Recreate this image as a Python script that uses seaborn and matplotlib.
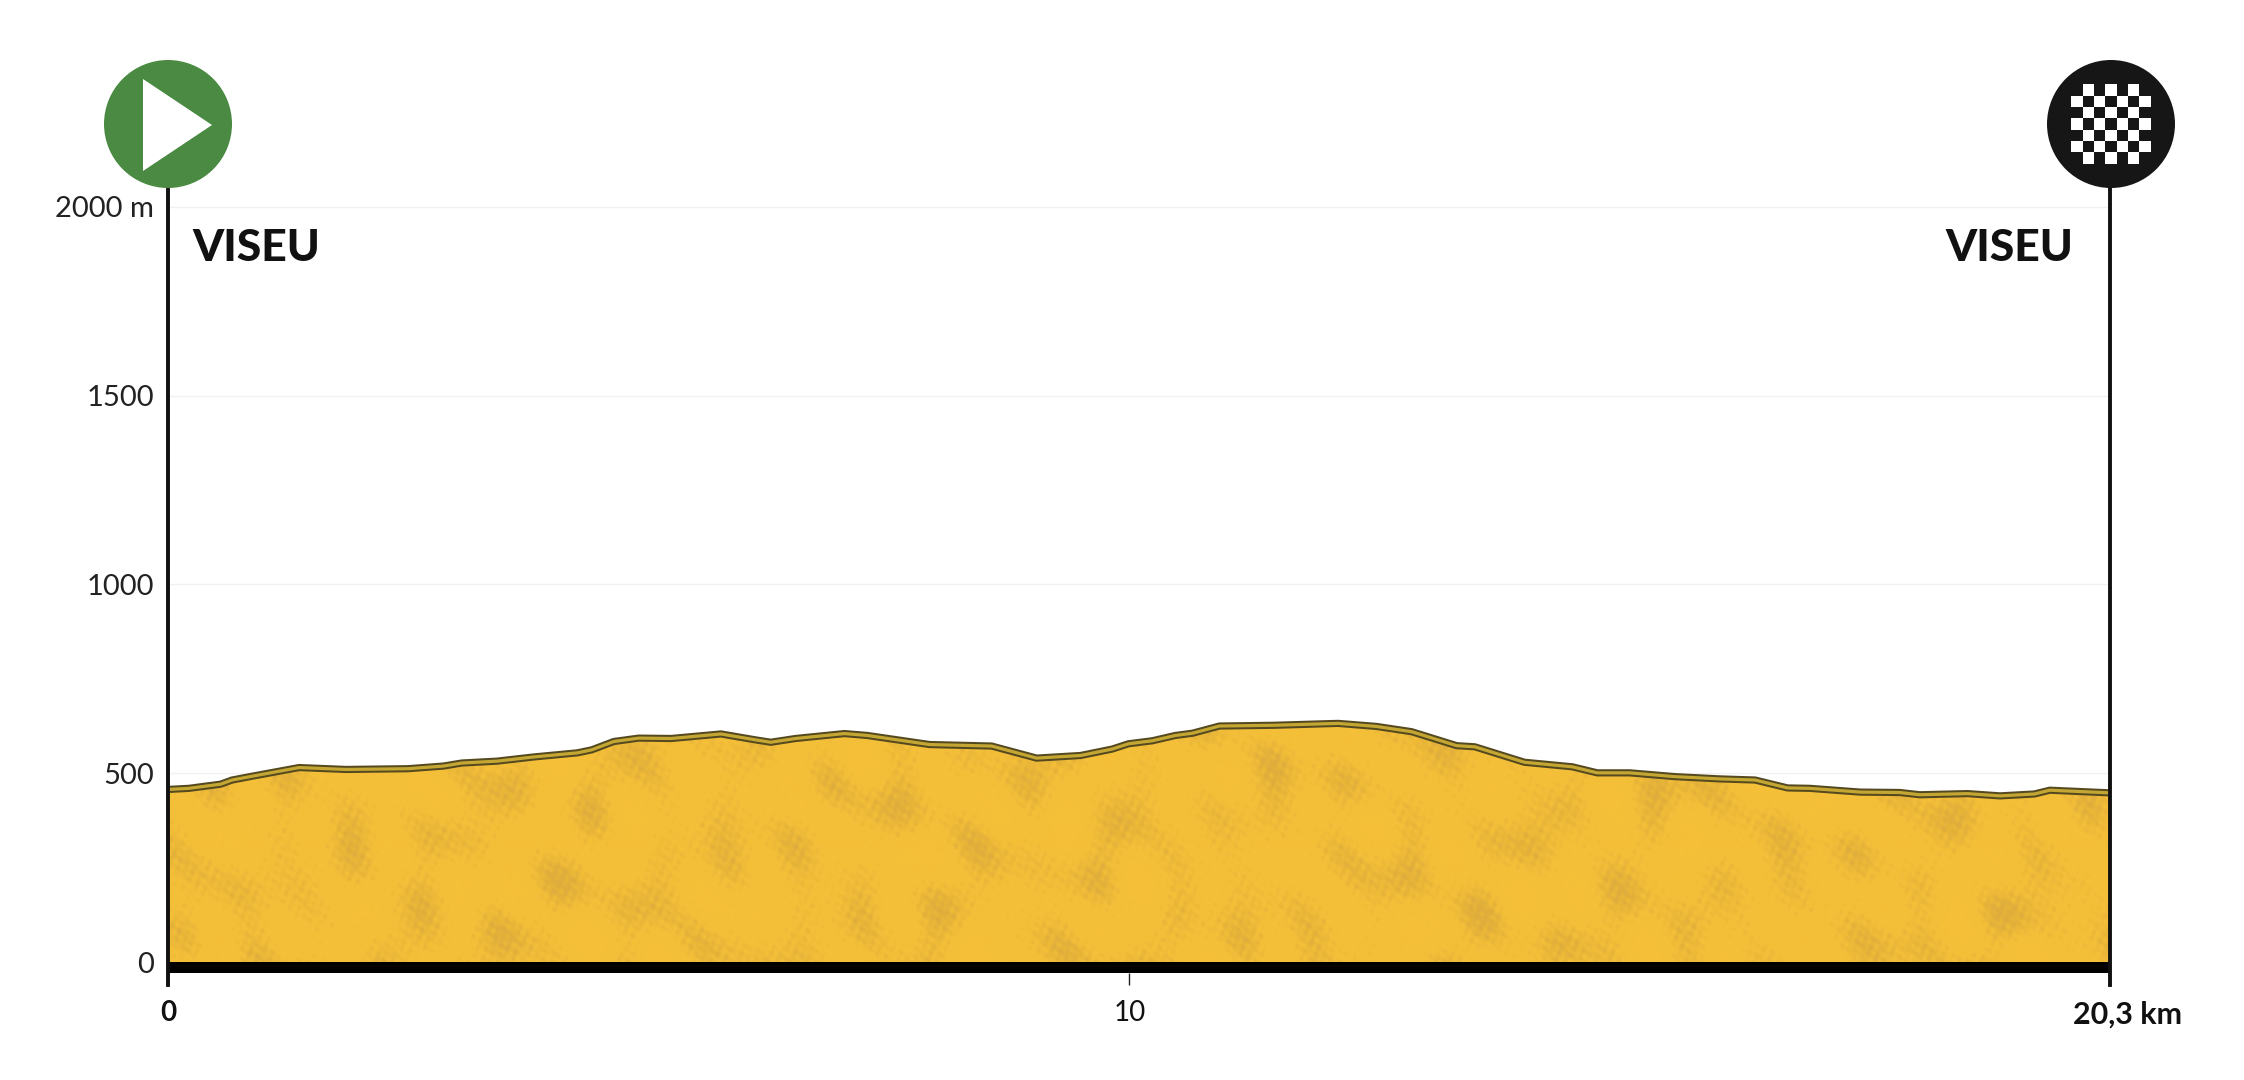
import numpy as np
import pandas as pd
import matplotlib.pyplot as plt
from matplotlib.colors import LinearSegmentedColormap
from matplotlib.patches import Circle, Polygon, Rectangle
from matplotlib.transforms import ScaledTranslation
import seaborn as sns

# Values
km = [0, 0.22, 0.55, 0.67, 0.92, 1.37, 1.86, 2.51, 2.88, 3.07, 3.44, 3.82, 4.28, 4.43, 4.66,
      4.92, 5.26, 5.78, 6.15, 6.30, 6.56, 7.07, 7.31, 7.96, 8.61, 9.08, 9.54, 9.87, 10.04,
      10.29, 10.53, 10.71, 10.99, 11.56, 12.23, 12.63, 13.0, 13.47, 13.66, 14.18, 14.68,
      14.94, 15.28, 15.75, 16.22, 16.59, 16.93, 17.16, 17.69, 18.10, 18.31, 18.81, 19.15,
      19.51, 19.67, 20.3]
elevation = [457, 460, 471, 482, 494, 515, 510, 512, 519, 527, 532, 543, 554, 562, 584,
             593, 592, 604, 588, 582, 592, 605, 600, 576, 572, 540, 547, 564, 578,
             586, 600, 606, 625, 627, 632, 624, 610, 573, 570, 529, 517,
             501, 501, 491, 485, 482, 461, 460, 450, 449, 443, 446, 440,
             445, 455, 448]
y_ticks = [0, 500, 1000, 1500, 2000]
y_labels = ["0", "500", "1000", "1500", "2000 m"]
x_ticks = [0, 10.05, 20.3]
x_labels = ["0", "10", "20,3 km"]
place = "VISEU"

sns.set_theme(style="white")
plt.rcParams['font.family'] = ['Lato', 'DejaVu Sans']

W, H = 2244, 1080
df = pd.DataFrame({"km": km, "elevation": elevation})

fig = plt.figure(figsize=(W / 100, H / 100), dpi=100, facecolor="white")
ax = fig.add_axes([168 / W, 1 - 985 / H, (2110 - 168) / W, (985 - 188) / H])

# Gold fill, mottled with crossed sine waves (only decoration, not data)
fill = ax.fill_between(km, 0, elevation, color="#f3bd38", linewidth=0, zorder=2)
gy, gx = np.mgrid[0:260, 0:1942]
tex = np.zeros(gx.shape)
for fx, fy, ph in [(0.031, 0.043, 0.3), (-0.047, 0.029, 1.9), (0.059, -0.037, 4.1),
                   (0.023, 0.071, 2.6), (-0.083, 0.019, 5.2), (0.017, -0.053, 0.9),
                   (0.071, 0.061, 3.3), (-0.037, -0.089, 1.2), (0.101, 0.023, 2.2)]:
    tex += np.sin(fx * gx + fy * gy + ph)
for fx, fy, ph in [(0.31, 0.43, 0.7), (-0.47, 0.29, 2.1), (0.59, -0.37, 3.7),
                   (0.23, 0.71, 5.3), (-0.83, 0.19, 1.4), (0.67, 0.61, 4.4)]:
    tex += 0.55 * np.sin(fx * gx + fy * gy + ph)
cmap = LinearSegmentedColormap.from_list("gold", ["#dfad3c", "#ebb738", "#f4bf38", "#f5c038"])
im = ax.imshow(tex, extent=[0, 20.3, 0, 690], origin="lower", aspect="auto", cmap=cmap,
               vmin=-6, vmax=3, zorder=3, interpolation="bilinear")
im.set_clip_path(fill.get_paths()[0], transform=ax.transData)

# Road band along the top of the profile
sns.lineplot(data=df, x="km", y="elevation", color="#55491f", linewidth=5.2, ax=ax, zorder=4)
sns.lineplot(data=df, x="km", y="elevation", color="#c4a633", linewidth=2.3, ax=ax, zorder=5)

# Black strip under sea level
ax.axhspan(-29, 0, color="black", linewidth=0, zorder=4)

ax.set_xlim(0, 20.3)
ax.set_ylim(-60.9, 2050)
ax.set_xlabel("")
ax.set_ylabel("")

for v in y_ticks[1:]:
    ax.axhline(v, color="#f1f1f1", linewidth=1, zorder=1)

ax.set_yticks(y_ticks, y_labels, fontsize=21, color="#222222")
ax.set_xticks(x_ticks, x_labels, fontsize=20, color="#111111")
ax.tick_params(axis="y", length=0, pad=10)
ax.tick_params(axis="x", bottom=True, direction="in", length=8.6, width=1, color="#222222", pad=11)
ticks = ax.get_xticklabels()
ticks[0].set_fontweight("bold")
ticks[2].set_fontweight("bold")
ticks[2].set_fontsize(22)
ticks[2].set_transform(ticks[2].get_transform() + ScaledTranslation(18 / 100, 0, fig.dpi_scale_trans))

sns.despine(ax=ax, top=True, bottom=True, left=False, right=False)
for side in ["left", "right"]:
    ax.spines[side].set_color("#111111")
    ax.spines[side].set_linewidth(2.8)
    ax.spines[side].set_zorder(6)

# Start and finish signs, placed in pixels
top = fig.add_axes([0, 0, 1, 1], facecolor="none")
top.set_xlim(0, W)
top.set_ylim(H, 0)
top.axis("off")

top.text(192, 248, place, fontsize=32, fontweight="black", color="#111111", va="center", ha="left")
top.text(2073, 248, place, fontsize=32, fontweight="black", color="#111111", va="center", ha="right")

top.add_patch(Circle((168, 124), 64, color="#4a8a42", linewidth=0))
top.add_patch(Polygon([(143, 79), (143, 171), (212, 125)], closed=True, color="white", linewidth=0))

top.add_patch(Circle((2111, 124), 64, color="#161616", linewidth=0))
cell = 11.3
for r in range(7):
    for c in range(7):
        if (r + c) % 2 == 1:
            top.add_patch(Rectangle((2111 + (c - 3.5) * cell, 124 + (r - 3.5) * cell), cell, cell,
                                    color="white", linewidth=0))

fig.savefig("out.png", dpi=100)
